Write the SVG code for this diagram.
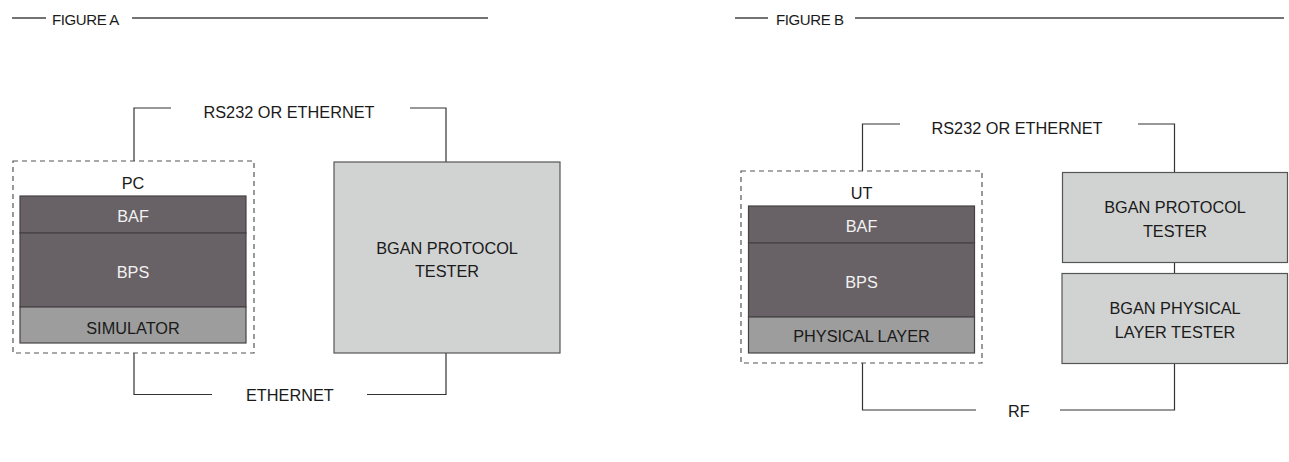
<svg xmlns="http://www.w3.org/2000/svg" width="1289" height="462" viewBox="0 0 1289 462">
<style>
  text { font-family: "Liberation Sans", Arial, sans-serif; }
  .hdr { font-size: 15px; fill: #1a1a1a; letter-spacing: -0.4px; }
  .hline { stroke: #444; stroke-width: 1.4; fill: none; }
  .lbl { font-size: 16.3px; fill: #1a1a1a; text-anchor: middle; }
  .lbl-l { font-size: 16.3px; fill: #1a1a1a; }
  .wt { font-size: 16.3px; fill: #f2f2f2; text-anchor: middle; }
  .dashbox { fill: none; stroke: #555; stroke-width: 1.2; stroke-dasharray: 5 4; }
  .dark { fill: #686166; stroke: #464145; stroke-width: 1.2; }
  .mid { fill: #9d9d9d; stroke: #464145; stroke-width: 1.2; }
  .light { fill: #d1d2d2; stroke: #555; stroke-width: 1.2; }
  .conn { fill: none; stroke: #333; stroke-width: 1.2; }
</style>

<!-- headers -->
<g id="header-a">
  <line class="hline" x1="12" y1="18" x2="46" y2="18"/>
  <text class="hdr" x="52" y="25">FIGURE A</text>
  <line class="hline" x1="132" y1="18" x2="488" y2="18"/>
</g>
<g id="header-b">
  <line class="hline" x1="735" y1="18" x2="768" y2="18"/>
  <text class="hdr" x="776" y="25">FIGURE B</text>
  <line class="hline" x1="855" y1="18" x2="1284" y2="18"/>
</g>

<!-- connectors -->
<g id="connectors">
  <polyline class="conn" points="134,161 134,108 171,108"/>
  <polyline class="conn" points="410,108 446,108 446,162"/>
  <polyline class="conn" points="134,353 134,394.5 212,394.5"/>
  <polyline class="conn" points="367,394.5 446,394.5 446,353"/>
  <polyline class="conn" points="862.5,171 862.5,124 900,124"/>
  <polyline class="conn" points="1138,124 1174.5,124 1174.5,172.5"/>
  <line class="conn" x1="1174.5" y1="262.5" x2="1174.5" y2="273.5"/>
  <polyline class="conn" points="862.5,363 862.5,410 976,410"/>
  <polyline class="conn" points="1060,410 1174.5,410 1174.5,363"/>
</g>

<!-- connector labels -->
<g id="labels">
  <text class="lbl-l" x="203.5" y="117.5">RS232 OR ETHERNET</text>
  <text class="lbl-l" x="246" y="401">ETHERNET</text>
  <text class="lbl-l" x="931.5" y="133.5">RS232 OR ETHERNET</text>
  <text class="lbl-l" x="1008" y="417.3">RF</text>
</g>

<!-- Figure A: PC -->
<g id="pc">
  <rect class="dashbox" x="13" y="161" width="241" height="192"/>
  <text class="lbl" x="133" y="188.5">PC</text>
  <g id="pc-baf">
    <rect class="dark" x="20" y="196" width="226" height="37"/>
    <text class="wt" x="133" y="221.5">BAF</text>
  </g>
  <g id="pc-bps">
    <rect class="dark" x="20" y="233" width="226" height="74"/>
    <text class="wt" x="133" y="277.5">BPS</text>
  </g>
  <g id="pc-simulator">
    <rect class="mid" x="20" y="307" width="226" height="36"/>
    <text class="lbl" x="133" y="334">SIMULATOR</text>
  </g>
</g>

<g id="bgan-tester-a">
  <rect class="light" x="334" y="162" width="226" height="191"/>
  <text class="lbl" x="447" y="254">BGAN PROTOCOL</text>
  <text class="lbl" x="447" y="276.7">TESTER</text>
</g>

<!-- Figure B: UT -->
<g id="ut">
  <rect class="dashbox" x="741" y="171" width="241" height="192"/>
  <text class="lbl" x="861.5" y="198.5">UT</text>
  <g id="ut-baf">
    <rect class="dark" x="748.5" y="206" width="226" height="37"/>
    <text class="wt" x="861.5" y="232">BAF</text>
  </g>
  <g id="ut-bps">
    <rect class="dark" x="748.5" y="243" width="226" height="74"/>
    <text class="wt" x="861.5" y="287.5">BPS</text>
  </g>
  <g id="ut-physical">
    <rect class="mid" x="748.5" y="317" width="226" height="36"/>
    <text class="lbl" x="861.5" y="342.3">PHYSICAL LAYER</text>
  </g>
</g>

<g id="bgan-protocol-b">
  <rect class="light" x="1062.5" y="172.5" width="225" height="90"/>
  <text class="lbl" x="1175" y="213.3">BGAN PROTOCOL</text>
  <text class="lbl" x="1175" y="237.3">TESTER</text>
</g>

<g id="bgan-physical-b">
  <rect class="light" x="1062" y="273.5" width="225.5" height="90"/>
  <text class="lbl" x="1175" y="314">BGAN PHYSICAL</text>
  <text class="lbl" x="1175" y="338.3">LAYER TESTER</text>
</g>
</svg>
